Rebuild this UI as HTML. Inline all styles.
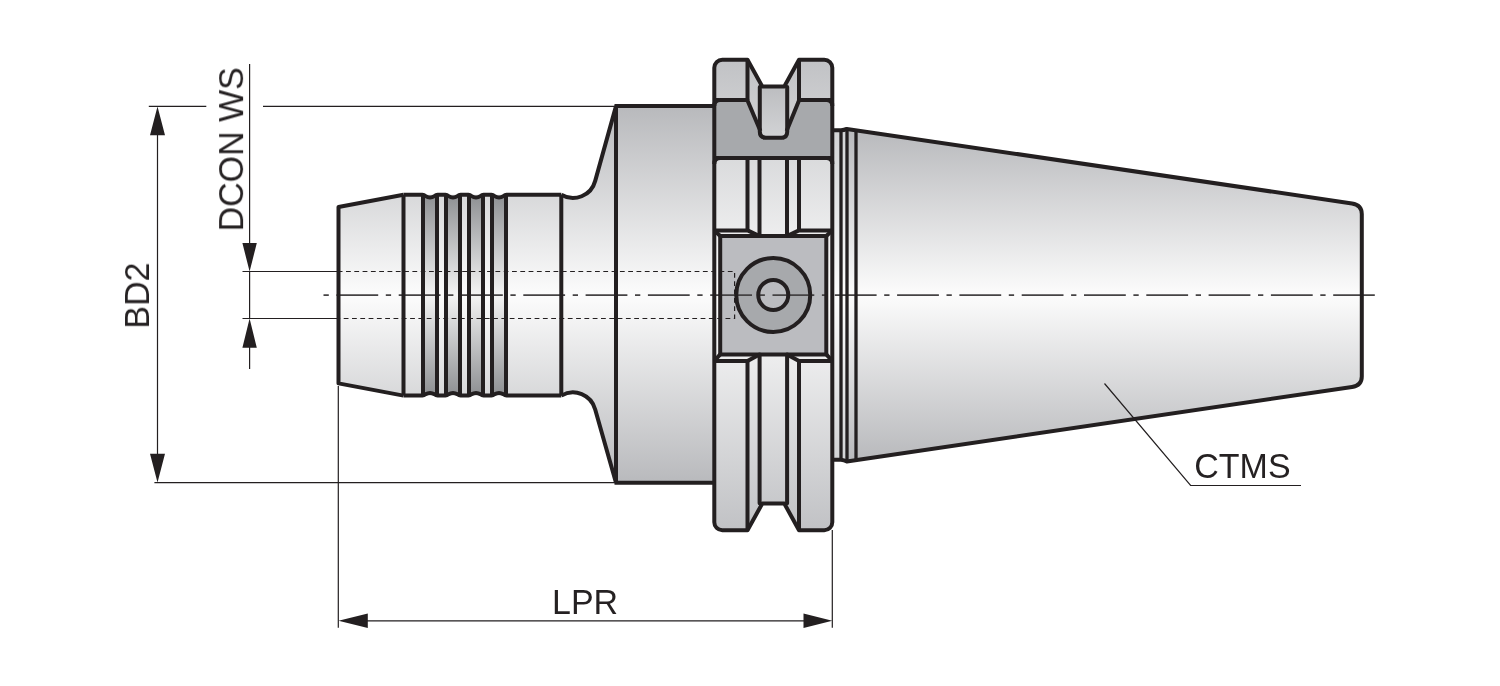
<!DOCTYPE html>
<html>
<head>
<meta charset="utf-8">
<title>Tool holder drawing</title>
<style>
html,body{margin:0;padding:0;background:#fff;}
body{width:1500px;height:686px;overflow:hidden;font-family:"Liberation Sans",sans-serif;}
svg{display:block;}
text{font-family:"Liberation Sans",sans-serif;font-size:34px;fill:#231f20;}
.h{stroke:#231f20;stroke-width:4;fill:none;stroke-linejoin:round;stroke-linecap:butt;}
.t{stroke:#231f20;stroke-width:1.2;fill:none;}
.a{fill:#231f20;stroke:none;}
</style>
</head>
<body>
<svg width="1500" height="686" viewBox="0 0 1500 686">
<defs>
  <linearGradient id="gBody" gradientUnits="userSpaceOnUse" x1="0" y1="106" x2="0" y2="484">
    <stop offset="0" stop-color="#b8b9bc"/>
    <stop offset="0.5" stop-color="#fcfcfc"/>
    <stop offset="1" stop-color="#b8b9bc"/>
  </linearGradient>
  <linearGradient id="gTaper" gradientUnits="userSpaceOnUse" x1="0" y1="129" x2="0" y2="461">
    <stop offset="0" stop-color="#b8b9bc"/>
    <stop offset="0.5" stop-color="#fcfcfc"/>
    <stop offset="1" stop-color="#b8b9bc"/>
  </linearGradient>
  <linearGradient id="gFlange" gradientUnits="userSpaceOnUse" x1="0" y1="60" x2="0" y2="530">
    <stop offset="0" stop-color="#c1c2c5"/>
    <stop offset="0.5" stop-color="#fcfcfc"/>
    <stop offset="1" stop-color="#c1c2c5"/>
  </linearGradient>
  <linearGradient id="gGroove" gradientUnits="userSpaceOnUse" x1="0" y1="195" x2="0" y2="395">
    <stop offset="0" stop-color="#8e9093"/>
    <stop offset="0.5" stop-color="#f4f4f4"/>
    <stop offset="1" stop-color="#8e9093"/>
  </linearGradient>
  <linearGradient id="gStep" gradientUnits="userSpaceOnUse" x1="0" y1="129" x2="0" y2="461">
    <stop offset="0" stop-color="#d2d3d5"/>
    <stop offset="0.5" stop-color="#fdfdfd"/>
    <stop offset="1" stop-color="#d2d3d5"/>
  </linearGradient>
  <linearGradient id="gU" gradientUnits="userSpaceOnUse" x1="0" y1="86" x2="0" y2="138">
    <stop offset="0" stop-color="#bcbdc0"/>
    <stop offset="1" stop-color="#d2d3d5"/>
  </linearGradient>
</defs>

<!-- ===== fills ===== -->
<g id="fills" stroke="none">
  <!-- nose -->
  <path d="M338.5,207 L403.5,194.8 L561.3,194.8 L561.3,395.6 L403.5,395.6 L338.5,383.4 Z" fill="url(#gBody)"/>
  <!-- grooves -->
  <rect x="423" y="196" width="14" height="198.6" fill="url(#gGroove)"/>
  <rect x="446" y="196" width="14" height="198.6" fill="url(#gGroove)"/>
  <rect x="469" y="196" width="14" height="198.6" fill="url(#gGroove)"/>
  <rect x="492" y="196" width="14" height="198.6" fill="url(#gGroove)"/>
  <!-- neck + cone -->
  <path d="M561.3,194.8 A23,23 0 0 0 595.2,180.87 L616,106.1 L616,482.8 L595.2,409.53 A23,23 0 0 0 561.3,395.6 Z" fill="url(#gBody)"/>
  <!-- body -->
  <rect x="616" y="106.1" width="98.3" height="376.7" fill="url(#gBody)"/>
  <!-- flange -->
  <path d="M714.3,67.7 A8,8 0 0 1 722.3,59.7 L747.5,59.7 L762.3,86.5 L784.3,86.5 L799,59.7 L824.3,59.7 A8,8 0 0 1 832.3,67.7 L832.3,522.3 A8,8 0 0 1 824.3,530.3 L799,530.3 L784.3,503.5 L762.3,503.5 L747.5,530.3 L722.3,530.3 A8,8 0 0 1 714.3,522.3 Z" fill="url(#gFlange)"/>
  <!-- dark band -->
  <path d="M714.3,100 L747.5,100 L763.7,137.7 L783.3,137.7 L799,100 L832.3,100 L832.3,158 L714.3,158 Z" fill="#a7a9ac"/>
  <!-- U slot -->
  <path d="M759.8,86.5 L787.2,86.5 L787.2,131.7 Q787.2,137.7 781.2,137.7 L765.8,137.7 Q759.8,137.7 759.8,131.7 Z" fill="url(#gU)"/>
  <!-- square -->
  <rect x="720.2" y="236" width="106.1" height="118.4" fill="#bbbcc0"/>
  <circle cx="773.25" cy="295" r="37" fill="#a7a9ac"/>
  <circle cx="773.25" cy="295" r="15" fill="#bbbcc0"/>
  <!-- steps right of flange -->
  <rect x="832.3" y="130.3" width="8.7" height="329.4" fill="url(#gStep)"/>
  <rect x="841" y="129" width="15" height="332" fill="url(#gStep)"/>
  <!-- taper -->
  <path d="M847,128.9 L1352,203.45 Q1361.8,205 1361.8,214 L1361.8,376.4 Q1361.8,385.4 1352,386.95 L847,461.3 Z" fill="url(#gTaper)"/>
</g>

<!-- ===== thin hidden lines / centre line ===== -->
<g id="hidden">
  <path class="t" d="M337.7,271.5 H734.6 V318.5 H337.7" stroke-dasharray="4.8 3.5"/>
  <path d="M323.5,295.05 H1374.8" stroke="#454344" stroke-width="1.7" fill="none" stroke-dasharray="5.3 7.6 41.8 7.6"/>
</g>

<!-- ===== heavy outlines ===== -->
<g id="outline">
  <!-- nose outline -->
  <path class="h" d="M403.5,194.8 L338.5,207 L338.5,383.4 L403.5,395.6"/>
  <path class="h" d="M403.5,194.8 H422.5 Q424.0,194.8 425.5,196.1 Q430.0,198.8 434.5,196.1 Q436.0,194.8 437.5,194.8 H445.5 Q447.0,194.8 448.5,196.1 Q453.0,198.8 457.5,196.1 Q459.0,194.8 460.5,194.8 H468.5 Q470.0,194.8 471.5,196.1 Q476.0,198.8 480.5,196.1 Q482.0,194.8 483.5,194.8 H491.5 Q493.0,194.8 494.5,196.1 Q499.0,198.8 503.5,196.1 Q505.0,194.8 506.5,194.8 H561.3"/>
  <path class="h" d="M403.5,395.6 H422.5 Q424.0,395.6 425.5,394.3 Q430.0,391.6 434.5,394.3 Q436.0,395.6 437.5,395.6 H445.5 Q447.0,395.6 448.5,394.3 Q453.0,391.6 457.5,394.3 Q459.0,395.6 460.5,395.6 H468.5 Q470.0,395.6 471.5,394.3 Q476.0,391.6 480.5,394.3 Q482.0,395.6 483.5,395.6 H491.5 Q493.0,395.6 494.5,394.3 Q499.0,391.6 503.5,394.3 Q505.0,395.6 506.5,395.6 H561.3"/>
  <path class="h" d="M403.5,194.8 V395.6 M423,196 V394.6 M437,196 V394.6 M446,196 V394.6 M460,196 V394.6 M469,196 V394.6 M483,196 V394.6 M492,196 V394.6 M506,196 V394.6 M561.3,194.8 V395.6"/>
  <!-- neck -->
  <path class="h" d="M561.3,194.8 A23,23 0 0 0 595.2,180.87 L616,106.1"/>
  <path class="h" d="M561.3,395.6 A23,23 0 0 1 595.2,409.53 L616,482.8"/>
  <path class="h" d="M616,106.1 V482.8"/>
  <path class="h" d="M614.5,106.1 H714.3 M614.5,482.8 H714.3"/>
  <!-- flange outline -->
  <path class="h" d="M714.3,67.7 A8,8 0 0 1 722.3,59.7 L747.5,59.7 L762.3,86.5 L784.3,86.5 L799,59.7 L824.3,59.7 A8,8 0 0 1 832.3,67.7 L832.3,522.3 A8,8 0 0 1 824.3,530.3 L799,530.3 L784.3,503.5 L762.3,503.5 L747.5,530.3 L722.3,530.3 A8,8 0 0 1 714.3,522.3 Z"/>
  <!-- upper flange details -->
  <path class="h" d="M747.5,59.7 V100 M799,59.7 V100"/>
  <path class="h" d="M714.3,106 Q714.3,100 720.3,100 L747.3,100 L760.4,131 M832.3,106 Q832.3,100 826.3,100 L799.2,100 L786.6,131"/>
  <path class="a" d="M714.3,98 H721 Q714.3,100 714.3,107 Z M832.3,98 H825.6 Q832.3,100 832.3,107 Z M714.3,156 H721 Q714.3,158 714.3,165 Z M832.3,156 H825.6 Q832.3,158 832.3,165 Z"/>
  <path class="a" d="M758,130 L763,139.6 L767,139.7 Q758.5,139.2 758,130 Z M789,130 L784,139.6 L780,139.7 Q788.5,139.2 789,130 Z"/>
  <path class="h" style="stroke-linecap:round" d="M759.8,87 V131.7 Q759.8,137.7 765.8,137.7 H781.2 Q787.2,137.7 787.2,131.7 V87"/>
  <path class="h" d="M714.3,164 Q714.3,158 720.3,158 L826.3,158 Q832.3,158 832.3,164"/>
  <path class="h" d="M747.5,158 V230 M759.5,158 V236 M787,158 V236 M799,158 V230"/>
  <!-- pocket -->
  <path class="h" d="M714.3,230.4 H747.5 L759.5,236 M832.3,230.4 H799 L787,236"/>
  <path class="h" d="M714.3,230.4 L720.2,236 M832.3,230.4 L826.3,236 M714.3,361 L720.2,354.4 M832.3,361 L826.3,354.4"/>
  <rect class="h" x="720.2" y="236" width="106.1" height="118.4"/>
  <path class="h" d="M714.3,361 H747.5 L759.5,354.4 M832.3,361 H799 L787,354.4"/>
  <circle class="h" cx="773.25" cy="295" r="37"/>
  <circle class="h" cx="773.25" cy="295" r="15"/>
  <!-- lower flange details -->
  <path class="h" d="M747.5,361 V530.3 M799,361 V530.3"/>
  <path class="h" style="stroke-linecap:round" d="M759.6,354.4 V503.2 M787.1,354.4 V503.2"/>
  <!-- steps + taper -->
  <path class="h" d="M832.3,130.3 H841 Q844,130.2 846.8,128.9 L1352,203.45 Q1361.8,205 1361.8,214 L1361.8,376.4 Q1361.8,385.4 1352,386.95 L846.8,461.4 Q844,460 841,459.7 H832.3"/>
  <path class="h" style="stroke-width:3.3" d="M841,130.3 V459.7 M847,129 V461 M856,130 V460"/>
</g>

<!-- ===== dimensions ===== -->
<g id="dims">
  <!-- BD2 -->
  <path class="t" d="M148.8,106.4 H206.3 M263,106.4 H616 M154.4,482.6 H616 M157.5,120 V470"/>
  <path class="a" d="M157.5,106.4 L165,135.3 H150 Z M157.5,482.6 L165,453.7 H150 Z"/>
  <!-- DCON WS -->
  <path class="t" d="M249.6,64 V250 M249.6,271.5 V318.5 M249.6,340 V369 M242.5,271.5 H339 M242.5,318.5 H339"/>
  <path class="a" d="M249.6,271.5 L256.8,243.1 H242.4 Z M249.6,318.5 L256.8,347.8 H242.4 Z"/>
  <!-- LPR -->
  <path class="t" d="M338.3,386 V627.8 M832.3,530 V627.8 M360,620.8 H810"/>
  <path class="a" d="M338.5,620.8 L367.8,613.6 V628 Z M832.3,620.8 L803.5,613.6 V628 Z"/>
  <!-- CTMS leader -->
  <path class="t" d="M1104.5,383.5 L1190.6,485.5 H1301"/>
</g>

<g id="labels" style="opacity:0.99">
  <text transform="translate(243.2,231.4) rotate(-90) scale(1,1.035)">DCON WS</text>
  <text transform="translate(149.1,328.7) rotate(-90) scale(1,1.035)">BD2</text>
  <text transform="translate(552,614.4) scale(1,1.035)">LPR</text>
  <text transform="translate(1194.3,478.2) scale(1,1.035)">CTMS</text>
</g>
</svg>
</body>
</html>
